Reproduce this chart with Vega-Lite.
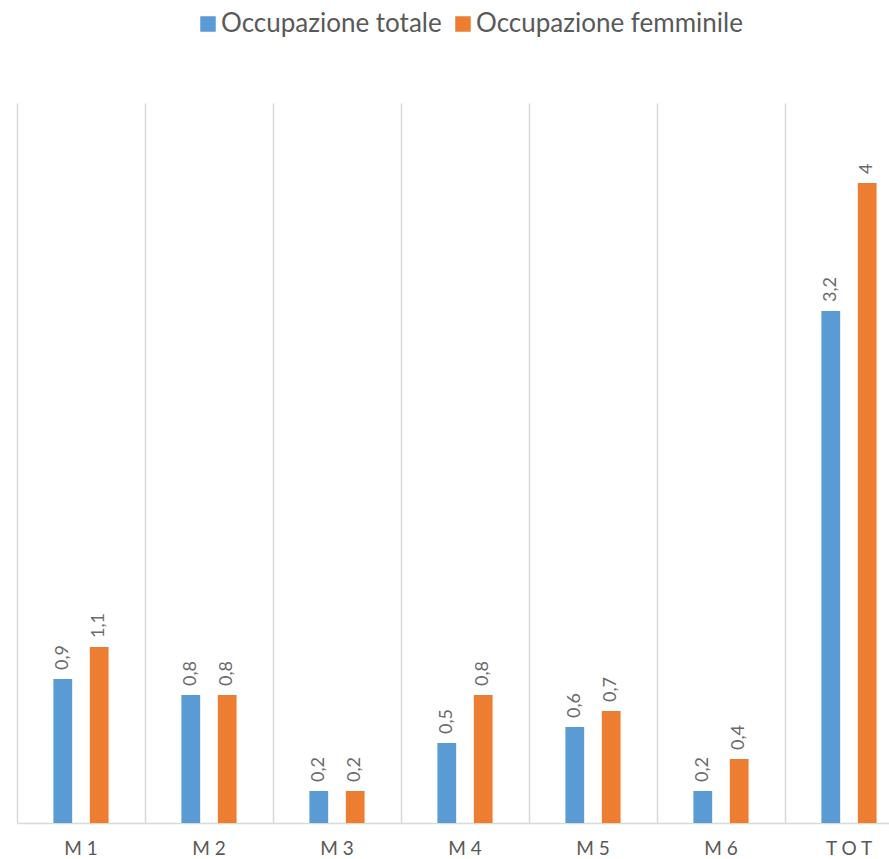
{
  "$schema": "https://vega.github.io/schema/vega-lite/v6.json",
  "autosize": {"type": "none"},
  "width": 872,
  "height": 720,
  "padding": {"left": 17, "top": 103, "right": 0, "bottom": 36},
  "background": "white",
  "config": {
    "view": {"stroke": null},
    "font": "Lato",
    "locale": {"number": {"decimal": ",", "thousands": ".", "grouping": [3], "currency": ["€", ""]}}
  },
  "data": {
    "values": [
      {"cat": "M1", "serie": "Occupazione totale", "valore": 0.9},
      {"cat": "M1", "serie": "Occupazione femminile", "valore": 1.1},
      {"cat": "M2", "serie": "Occupazione totale", "valore": 0.8},
      {"cat": "M2", "serie": "Occupazione femminile", "valore": 0.8},
      {"cat": "M3", "serie": "Occupazione totale", "valore": 0.2},
      {"cat": "M3", "serie": "Occupazione femminile", "valore": 0.2},
      {"cat": "M4", "serie": "Occupazione totale", "valore": 0.5},
      {"cat": "M4", "serie": "Occupazione femminile", "valore": 0.8},
      {"cat": "M5", "serie": "Occupazione totale", "valore": 0.6},
      {"cat": "M5", "serie": "Occupazione femminile", "valore": 0.7},
      {"cat": "M6", "serie": "Occupazione totale", "valore": 0.2},
      {"cat": "M6", "serie": "Occupazione femminile", "valore": 0.4},
      {"cat": "TOT", "serie": "Occupazione totale", "valore": 3.2},
      {"cat": "TOT", "serie": "Occupazione femminile", "valore": 4.0}
    ]
  },
  "encoding": {
    "x": {
      "field": "cat", "type": "nominal", "sort": null,
      "scale": {"range": [0, 896], "paddingInner": 0, "paddingOuter": 0},
      "axis": {
        "title": null, "labelAngle": 0, "ticks": false,
        "domainColor": "#D9D9D9", "domainWidth": 1.5,
        "grid": true, "gridColor": "#D9D9D9", "gridWidth": 1.5, "bandPosition": 0,
        "labelFontSize": 19, "labelColor": "#595959", "labelPadding": 16, "labelDx": -5,
        "labelExpr": "join(split(datum.label, ''), ' ')"
      }
    },
    "xOffset": {
      "field": "serie", "type": "nominal",
      "sort": ["Occupazione totale", "Occupazione femminile"],
      "scale": {"paddingInner": 0.485, "paddingOuter": 1.18}
    },
    "y": {
      "field": "valore", "type": "quantitative",
      "scale": {"domain": [0, 4.5], "nice": false},
      "axis": null
    }
  },
  "layer": [
    {
      "mark": {"type": "bar"},
      "encoding": {
        "color": {
          "field": "serie", "type": "nominal",
          "sort": ["Occupazione totale", "Occupazione femminile"],
          "scale": {"domain": ["Occupazione totale", "Occupazione femminile"], "range": ["#5B9BD5", "#ED7D31"]},
          "legend": {
            "title": null, "orient": "none", "direction": "horizontal",
            "legendX": 178, "legendY": -92,
            "symbolType": "square", "symbolSize": 240, "symbolStrokeWidth": 0,
            "labelFontSize": 26, "labelColor": "#595959", "labelOffset": 0,
            "columnPadding": 8, "labelLimit": 400
          }
        }
      }
    },
    {
      "mark": {"type": "text", "angle": 270, "align": "left", "baseline": "middle", "yOffset": -9, "fontSize": 18, "color": "#6a6a6a"},
      "encoding": {
        "text": {"field": "valore", "type": "quantitative", "format": ".1~f"}
      }
    }
  ]
}
